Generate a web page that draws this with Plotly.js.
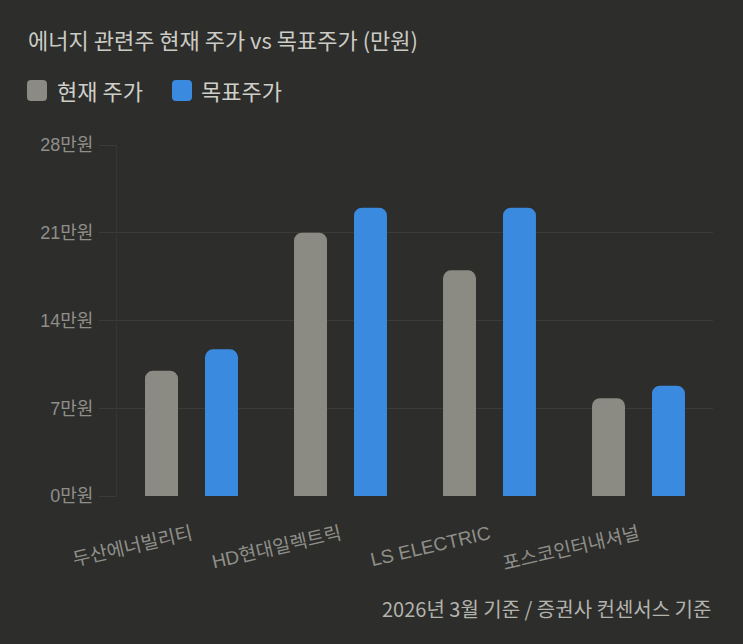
<!DOCTYPE html>
<html>
<head>
<meta charset="utf-8">
<script src="https://cdn.plot.ly/plotly-3.0.1.min.js"></script>
<style>
  html, body { margin: 0; padding: 0; background: #2d2d2b; }
  #chart { width: 743px; height: 644px; }
</style>
</head>
<body>
<div id="chart"></div>
<script>
// ---- data ----
const categories = ['두산에너빌리티', 'HD현대일렉트릭', 'LS ELECTRIC', '포스코인터내셔널'];
const currentPrice = [10, 21, 18, 7.8];
const targetPrice = [11.7, 23, 23, 8.8];
const seriesNames = ['현재 주가', '목표주가'];
const yTickVals = [0, 7, 14, 21, 28];
const yTickText = ['0만원', '7만원', '14만원', '21만원', '28만원'];
const titleText = '에너지 관련주 현재 주가 vs 목표주가 (만원)';
const footnoteText = '2026년 3월 기준 / 증권사 컨센서스 기준';

// ---- style ----
const W = 743, H = 644;
const M = { l: 117, r: 30, t: 145, b: 148 };
const PW = W - M.l - M.r, PH = H - M.t - M.b;
const FONT = '"Noto Sans CJK KR", "Noto Sans", sans-serif';
const TICKFONT = '"Liberation Sans", "Noto Sans CJK KR", sans-serif';
const BG = '#2d2d2b';
const GRAY = '#8b8a83';
const BLUE = '#3a8ae0';
const GRID = '#3b3b39';

function px2paperX(x) { return (x - M.l) / PW; }
function px2paperY(y) { return (H - M.b - y) / PH; }
function roundRect(x0, y0, x1, y1, r) {
  const X = px2paperX, Y = px2paperY;
  return 'M' + X(x0 + r) + ',' + Y(y0) +
    ' L' + X(x1 - r) + ',' + Y(y0) +
    ' Q' + X(x1) + ',' + Y(y0) + ' ' + X(x1) + ',' + Y(y0 + r) +
    ' L' + X(x1) + ',' + Y(y1 - r) +
    ' Q' + X(x1) + ',' + Y(y1) + ' ' + X(x1 - r) + ',' + Y(y1) +
    ' L' + X(x0 + r) + ',' + Y(y1) +
    ' Q' + X(x0) + ',' + Y(y1) + ' ' + X(x0) + ',' + Y(y1 - r) +
    ' L' + X(x0) + ',' + Y(y0 + r) +
    ' Q' + X(x0) + ',' + Y(y0) + ' ' + X(x0 + r) + ',' + Y(y0) + ' Z';
}

const traces = [
  { type: 'bar', name: seriesNames[0], x: categories, y: currentPrice,
    marker: { color: GRAY, cornerradius: 8 }, hoverinfo: 'skip' },
  { type: 'bar', name: seriesNames[1], x: categories, y: targetPrice,
    marker: { color: BLUE, cornerradius: 8 }, hoverinfo: 'skip' }
];

const legendItems = [
  { sq: [27, 80, 47, 101], textX: 55, color: GRAY, name: seriesNames[0] },
  { sq: [172, 80, 192, 101], textX: 199, color: BLUE, name: seriesNames[1] }
];

const shapes = legendItems.map(it => ({
  type: 'path', xref: 'paper', yref: 'paper',
  path: roundRect(it.sq[0], it.sq[1], it.sq[2], it.sq[3], 4),
  fillcolor: it.color, line: { width: 0 }
}));

const annotations = legendItems.map(it => ({
  xref: 'paper', yref: 'paper', x: px2paperX(it.textX), y: px2paperY(90),
  xanchor: 'left', yanchor: 'middle', showarrow: false, text: it.name,
  font: { family: FONT, size: 22, color: '#cfcfc9' }
}));
annotations.push({
  xref: 'paper', yref: 'paper', x: 1, y: px2paperY(608),
  xanchor: 'right', yanchor: 'middle', showarrow: false, text: footnoteText,
  font: { family: FONT, size: 20, color: '#b3b3ad' }
});

const layout = {
  width: W, height: H,
  paper_bgcolor: BG, plot_bgcolor: BG,
  margin: M,
  showlegend: false,
  barmode: 'group',
  bargap: 0.195,
  bargroupgap: 0.45,
  title: {
    text: titleText, xref: 'container', yref: 'container',
    x: 28 / W, xanchor: 'left', y: 1 - 41 / H, yanchor: 'middle',
    font: { family: FONT, size: 22, color: '#cbcbc5' }
  },
  xaxis: {
    type: 'category', range: [-0.5, 3.5],
    showgrid: false, zeroline: false, showline: false,
    tickangle: -13, ticks: '', ticklabelstandoff: 23,
    tickfont: { family: TICKFONT, size: 19, color: '#8f8f8a' }
  },
  yaxis: {
    range: [0, 28], tickmode: 'array', tickvals: yTickVals, ticktext: yTickText,
    showgrid: true, gridcolor: GRID, gridwidth: 1,
    zeroline: false,
    showline: true, linecolor: '#363634', linewidth: 1,
    ticks: 'outside', ticklen: 17, tickcolor: GRID, tickwidth: 1,
    ticklabelstandoff: 2,
    tickfont: { family: TICKFONT, size: 18, color: '#8f8f8a' }
  },
  shapes: shapes,
  annotations: annotations
};

Plotly.newPlot('chart', traces, layout, { staticPlot: true, displayModeBar: false });
</script>
</body>
</html>
